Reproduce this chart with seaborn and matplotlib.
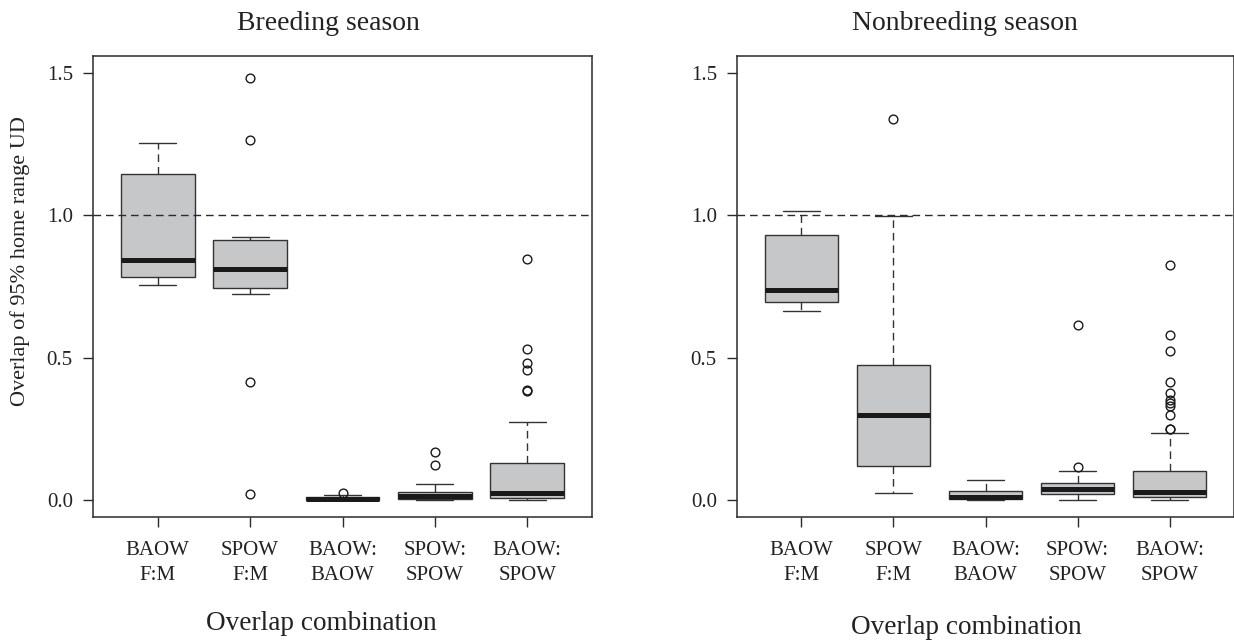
import matplotlib
matplotlib.use("Agg")
import matplotlib.pyplot as plt
import seaborn as sns
import pandas as pd

# Category labels shown under each box
categories = ["BAOW\nF:M", "SPOW\nF:M", "BAOW:\nBAOW", "SPOW:\nSPOW", "BAOW:\nSPOW"]

# Breeding season: overlap of 95% home range UD per pair
breed_baow_fm = [0.754, 0.770, 0.785, 0.812, 0.842, 0.990, 1.144, 1.205, 1.254]
breed_spow_fm = [0.021, 0.415, 0.722, 0.746, 0.780, 0.800, 0.813, 0.840, 0.870,
                 0.912, 0.923, 1.264, 1.482]
breed_baow_baow = [0.000, 0.000, 0.001, 0.001, 0.002, 0.003, 0.004, 0.006, 0.008,
                   0.010, 0.013, 0.018, 0.025]
breed_spow_spow = [0.000, 0.001, 0.002, 0.003, 0.003, 0.005, 0.008, 0.010, 0.013,
                   0.016, 0.019, 0.022, 0.029, 0.038, 0.056, 0.123, 0.169]
breed_baow_spow = [0.000, 0.000, 0.001, 0.001, 0.002, 0.003, 0.004, 0.006, 0.008,
                   0.010, 0.012, 0.015, 0.018, 0.021, 0.024, 0.030, 0.041, 0.055,
                   0.068, 0.085, 0.104, 0.129, 0.275, 0.383, 0.386, 0.458, 0.482,
                   0.532, 0.845]

# Nonbreeding season
nonbreed_baow_fm = [0.665, 0.680, 0.694, 0.712, 0.739, 0.850, 0.930, 0.985, 1.014]
nonbreed_spow_fm = [0.025, 0.060, 0.095, 0.120, 0.180, 0.240, 0.299, 0.350, 0.410,
                    0.474, 0.620, 0.998, 1.338]
nonbreed_baow_baow = [0.000, 0.002, 0.005, 0.008, 0.012, 0.020, 0.033, 0.048, 0.070]
nonbreed_spow_spow = [0.000, 0.005, 0.010, 0.016, 0.022, 0.026, 0.031, 0.035, 0.039,
                      0.043, 0.048, 0.053, 0.058, 0.070, 0.102, 0.117, 0.616]
nonbreed_baow_spow = [0.000, 0.000, 0.001, 0.001, 0.002, 0.002, 0.003, 0.004, 0.005,
                      0.006, 0.007, 0.009, 0.010, 0.011, 0.012, 0.013, 0.015, 0.016,
                      0.018, 0.019, 0.021, 0.023, 0.025, 0.026, 0.028, 0.031, 0.035,
                      0.039, 0.044, 0.050, 0.056, 0.062, 0.069, 0.077, 0.085, 0.093,
                      0.101, 0.236, 0.248, 0.250, 0.299, 0.330, 0.340, 0.352, 0.377,
                      0.415, 0.525, 0.580, 0.827]

y_ticks = [0.0, 0.5, 1.0, 1.5]
y_ticklabels = ["0.0", "0.5", "1.0", "1.5"]


def long_frame(groups):
    rows = []
    for cat, vals in zip(categories, groups):
        rows.extend((cat, v) for v in vals)
    return pd.DataFrame(rows, columns=["combo", "overlap"])


breeding = long_frame([breed_baow_fm, breed_spow_fm, breed_baow_baow,
                       breed_spow_spow, breed_baow_spow])
nonbreeding = long_frame([nonbreed_baow_fm, nonbreed_spow_fm, nonbreed_baow_baow,
                          nonbreed_spow_spow, nonbreed_baow_spow])

sns.set_style("white")
plt.rcParams["font.family"] = ["Liberation Serif", "DejaVu Serif"]
plt.rcParams["text.color"] = "#222222"

ink = "#2b2b2b"
fig = plt.figure(figsize=(12.34, 6.44), dpi=100)
ax_b = fig.add_axes([93 / 1234, 1 - 517 / 644, 499 / 1234, 461 / 644])
ax_n = fig.add_axes([737 / 1234, 1 - 517 / 644, 497 / 1234, 461 / 644])

box_kw = dict(
    x="combo", y="overlap", order=categories, width=0.8, whis=1.5,
    color="#c6c7c9", saturation=1, linecolor="#333333", linewidth=1.0,
    capwidths=0.4,
    medianprops=dict(color="#1a1a1a", linewidth=3.6, solid_capstyle="butt"),
    whiskerprops=dict(color="#333333", linewidth=1.0, linestyle=(0, (5.5, 3.5))),
    capprops=dict(color="#333333", linewidth=1.0),
    flierprops=dict(marker="o", markersize=6.3, markerfacecolor="none",
                    markeredgecolor="#1a1a1a", markeredgewidth=1.0),
)

for ax, df in [(ax_b, breeding), (ax_n, nonbreeding)]:
    sns.boxplot(data=df, ax=ax, **box_kw)
    ax.axhline(1.0, color="#2b2b2b", linewidth=1.0, linestyle=(0, (5.5, 3.5)),
               zorder=10)
    ax.set_xlim(-0.7, 4.7)
    ax.set_ylim(-0.06, 1.56)
    ax.set_yticks(y_ticks)
    ax.set_yticklabels(y_ticklabels)
    ax.set_xticks(range(len(categories)))
    ax.set_xticklabels(categories, linespacing=1.4)
    ax.set_xlabel("")
    ax.set_ylabel("")
    for sp in ax.spines.values():
        sp.set_visible(True)
        sp.set_color(ink)
        sp.set_linewidth(1.1)
    ax.tick_params(axis="both", direction="out", length=7.5, width=1.0,
                   color=ink, labelcolor="#222222", labelsize=15,
                   bottom=True, left=True, top=False, right=False)
    ax.tick_params(axis="x", pad=10)
    ax.tick_params(axis="y", pad=7)
    ax.grid(False)

fig.text(328 / 1234, 1 - 24 / 644, "Breeding season", ha="center", va="center",
         fontsize=20)
fig.text(965 / 1234, 1 - 24 / 644, "Nonbreeding season", ha="center", va="center",
         fontsize=20)
fig.text(321 / 1234, 1 - 624 / 644, "Overlap combination", ha="center", va="center",
         fontsize=19.6)
fig.text(966 / 1234, 1 - 628 / 644, "Overlap combination", ha="center", va="center",
         fontsize=19.6)
fig.text(20 / 1234, 1 - 261 / 644, "Overlap of 95% home range UD", ha="center",
         va="center", rotation=90, fontsize=16)

fig.savefig("out.png", dpi=100, facecolor="white")
